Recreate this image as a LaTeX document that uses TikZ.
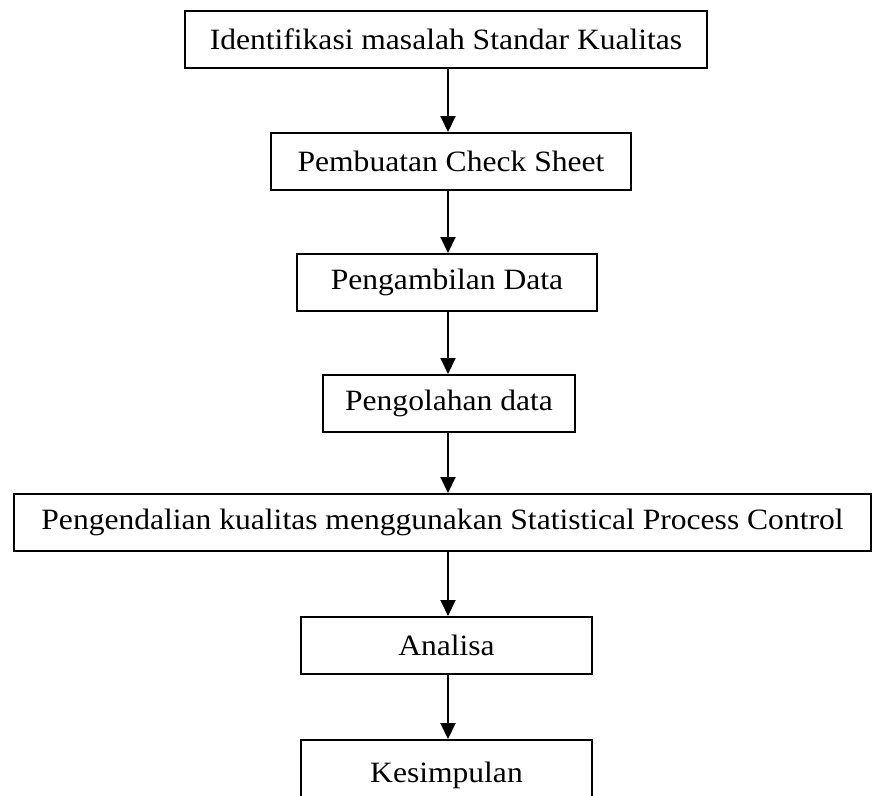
\documentclass[tikz,border=0pt]{standalone}
\usepackage{fontspec}
\setmainfont{Liberation Serif}[FakeStretch=1.07]
\usetikzlibrary{arrows.meta}
\begin{document}
\begin{tikzpicture}[x=1pt,y=-1pt,
  stepbox/.style={draw,line width=2pt,inner sep=0pt,anchor=north west,
    font=\fontsize{29.5}{33}\selectfont},
  flow/.style={line width=2pt,-{Triangle[width=15pt,length=16pt]}}]
  \useasboundingbox (0,0) rectangle (875,795);
  \clip (0,0) rectangle (875,795);
  % process boxes (top-left corner, width, height)
  \node[stepbox,minimum width=522pt,minimum height=56.5pt] (b1) at (184,10) {Identifikasi masalah Standar Kualitas};
  \node[stepbox,minimum width=360pt,minimum height=57pt] (b2) at (270,132) {Pembuatan Check Sheet};
  \node[stepbox,minimum width=300pt,minimum height=57pt] (b3) at (296,253) {Pengambilan Data};
  \node[stepbox,minimum width=252pt,minimum height=57pt] (b4) at (322,374) {Pengolahan data};
  \node[stepbox,minimum width=857pt,minimum height=57pt] (b5) at (13,493) {Pengendalian kualitas menggunakan Statistical Process Control};
  \node[stepbox,minimum width=291pt,minimum height=57pt] (b6) at (300,616) {Analisa};
  \node[stepbox,minimum width=291pt,minimum height=70pt] (b7) at (300,739) {Kesimpulan};
  % vertical axis of the connectors
  \coordinate (ax) at (448,0);
  \foreach \a/\b in {b1/b2,b2/b3,b3/b4,b4/b5,b5/b6,b6/b7}
    \draw[flow] (\a.south -| ax) -- (\b.north -| ax);
\end{tikzpicture}
\end{document}
